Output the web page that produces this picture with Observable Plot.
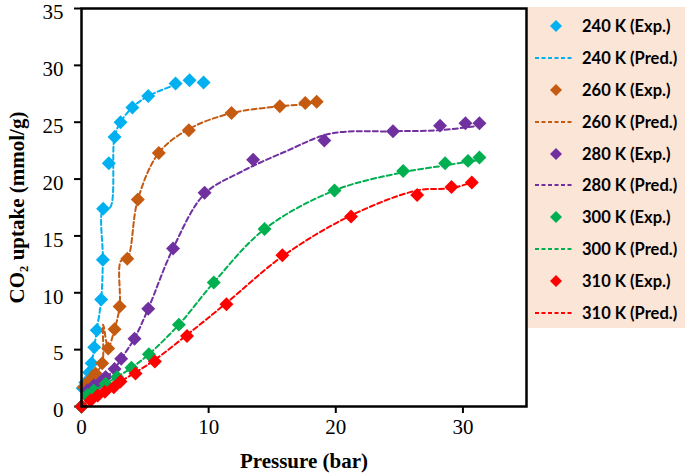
<!DOCTYPE html>
<html>
<head>
<meta charset="utf-8">
<script src="https://cdn.jsdelivr.net/npm/d3@7"></script>
<script src="https://cdn.jsdelivr.net/npm/@observablehq/plot@0.6"></script>
<style>
  html, body { margin: 0; padding: 0; background: white; }
  #wrap { position: relative; width: 685px; height: 473px; }
  #legend { position: absolute; left: 528px; top: 7px; width: 157px; height: 321px;
            background: #FBE5D6; font-family: Lato, "Open Sans", sans-serif; font-weight: bold;
            font-size: 16.5px; color: #000; box-sizing: border-box; padding-top: 3px; }
  .row { height: 31.9px; display: flex; align-items: center; }
  .row svg { flex: none; }
  .row span { margin-left: 8px; white-space: nowrap; }
</style>
</head>
<body>
<div id="wrap"><div id="chart"></div><div id="legend"></div></div>
<script>
// Series
const temps = ["240 K", "260 K", "280 K", "300 K", "310 K"];
const colors = ["#00B0F0", "#C55A11", "#7030A0", "#00B050", "#FF0000"];

// Experimental data: pressure (bar), uptake (mmol/g)
const expP240 = [0, 0.1, 0.3, 0.6, 0.8, 1.0, 1.2, 1.55, 1.68, 1.7, 2.15, 2.6, 3.07, 4.0, 5.25, 7.4, 8.5, 9.6];
const expU240 = [0, 1.6, 2.1, 3.0, 3.8, 5.2, 6.7, 9.4, 12.9, 17.4, 21.4, 23.7, 25.0, 26.3, 27.3, 28.4, 28.7, 28.5];
const expP260 = [0, 0.18, 0.65, 1.1, 1.63, 2.1, 2.6, 3.0, 3.6, 4.43, 6.08, 8.44, 11.8, 15.6, 17.6, 18.5];
const expU260 = [0, 1.7, 2.3, 2.9, 3.8, 5.1, 6.8, 8.8, 13.0, 18.2, 22.3, 24.3, 25.8, 26.4, 26.7, 26.8];
const expP280 = [0, 0.45, 0.97, 1.44, 1.9, 2.6, 3.12, 4.17, 5.25, 7.2, 9.68, 13.5, 19.1, 24.5, 28.2, 30.2, 31.3];
const expU280 = [0, 1.4, 1.85, 2.1, 2.6, 3.3, 4.2, 5.95, 8.6, 13.9, 18.8, 21.7, 23.4, 24.2, 24.7, 24.9, 24.9];
const expP300 = [0, 0.45, 0.97, 1.9, 2.8, 3.93, 5.3, 7.66, 10.4, 14.4, 19.9, 25.3, 28.6, 30.4, 31.3];
const expU300 = [0, 1.0, 1.4, 2.0, 2.6, 3.4, 4.6, 7.2, 10.9, 15.6, 19.0, 20.7, 21.4, 21.6, 21.9];
const expP310 = [0, 0.71, 1.28, 1.84, 2.54, 3.07, 4.25, 5.77, 8.3, 11.4, 15.8, 21.2, 26.4, 29.1, 30.7];
const expU310 = [0, 0.53, 0.97, 1.3, 1.7, 2.2, 2.9, 3.96, 6.2, 9.0, 13.3, 16.7, 18.6, 19.3, 19.7];

// Predicted data
const predP240 = [0, 0.1, 0.3, 0.6, 0.8, 1.0, 1.2, 1.55, 1.68, 1.7, 2.25, 2.6, 3.07, 4.0, 5.25, 7.4];
const predU240 = [0, 1.6, 2.1, 3.0, 3.8, 5.2, 6.7, 9.4, 12.9, 17.4, 17.5, 23.7, 25.0, 26.3, 27.3, 28.3];
const predP260 = [0, 0.18, 0.65, 1.1, 1.63, 1.7, 2.1, 2.6, 3.0, 3.1, 3.6, 4.43, 6.08, 8.44, 11.8, 15.6, 17.6, 18.5];
const predU260 = [0, 1.7, 2.3, 2.9, 3.8, 7.2, 5.2, 6.8, 8.8, 12.8, 13.0, 18.2, 22.3, 24.4, 25.8, 26.4, 26.6, 26.8];
const predP280 = [0, 0.45, 0.97, 1.44, 1.9, 2.6, 3.12, 4.17, 5.25, 7.2, 9.68, 12.5, 16, 19.6, 24.5, 28.2, 31.3];
const predU280 = [0, 1.3, 1.8, 2.1, 2.5, 3.3, 4.2, 6.0, 8.6, 13.9, 18.7, 20.6, 22.4, 24.0, 24.2, 24.3, 24.7];
const predP300 = [0, 0.45, 0.97, 1.9, 2.8, 3.93, 5.3, 7.66, 10.4, 14.4, 19.9, 25.3, 28.6, 31.3];
const predU300 = [0, 1.0, 1.4, 2.0, 2.6, 3.4, 4.6, 7.2, 10.9, 15.6, 19.0, 20.6, 21.2, 21.7];
const predP310 = [0, 0.71, 1.28, 1.84, 2.54, 3.07, 4.25, 5.77, 8.3, 11.4, 15.8, 21.2, 26.4, 29.1, 30.7];
const predU310 = [0, 0.6, 1.0, 1.35, 1.8, 2.2, 3.0, 4.1, 6.3, 9.1, 13.2, 16.8, 19.0, 19.2, 19.7];

const xTicks = [0, 10, 20, 30];
const yTicks = [0, 5, 10, 15, 20, 25, 30, 35];
const xTitle = "Pressure (bar)";
const yTitle = "CO₂ uptake (mmol/g)";

const expSets = [[expP240, expU240], [expP260, expU260], [expP280, expU280], [expP300, expU300], [expP310, expU310]];
const predSets = [[predP240, predU240], [predP260, predU260], [predP280, predU280], [predP300, predU300], [predP310, predU310]];
const toRows = ([P, U], t) => P.map((p, i) => ({p, u: U[i], t}));

const marks = [];
temps.forEach((t, k) => {
  marks.push(Plot.line(toRows(predSets[k], t), {x: "p", y: "u", stroke: colors[k], strokeWidth: 2,
    strokeDasharray: "5,3", curve: "catmull-rom"}));
  marks.push(Plot.dot(toRows(expSets[k], t), {x: "p", y: "u", symbol: "diamond2", r: 6.3,
    fill: colors[k], stroke: "none"}));
});

const chart = Plot.plot({
  width: 685, height: 473,
  marginLeft: 81, marginRight: 159, marginTop: 8, marginBottom: 67,
  style: {fontFamily: "'Liberation Serif', 'Times New Roman', serif", fontSize: "21px", color: "black", background: "white"},
  x: {domain: [0, 35]},
  y: {domain: [0, 35]},
  marks: [
    Plot.axisX({ticks: xTicks, tickSize: 7, tickPadding: 6, fontSize: 21, label: null, strokeWidth: 2}),
    Plot.axisY({ticks: yTicks, tickSize: 7, text: null, label: null, strokeWidth: 2}),
    Plot.axisY({ticks: yTicks, tickSize: 0, tickPadding: 18, fontSize: 21, label: null, dy: 4}),
    ...marks,
    Plot.frame({stroke: "black", strokeWidth: 2.5}),
    Plot.text([xTitle], {frameAnchor: "bottom", dy: 61, textAnchor: "middle", fontWeight: "bold", fontSize: 21}),
    Plot.text([yTitle], {frameAnchor: "left", dx: -64, rotate: -90, textAnchor: "middle", lineAnchor: "middle", fontWeight: "bold", fontSize: 21})
  ]
});
document.getElementById("chart").appendChild(chart);

// Legend
const legend = document.getElementById("legend");
temps.forEach((t, k) => {
  const r1 = document.createElement("div"); r1.className = "row";
  r1.innerHTML = `<svg width="46" height="20"><path d="M28,4 L34,10 L28,16 L22,10 Z" fill="${colors[k]}"/></svg><span>${t} (Exp.)</span>`;
  legend.appendChild(r1);
  const r2 = document.createElement("div"); r2.className = "row";
  r2.innerHTML = `<svg width="46" height="20"><line x1="7" x2="45" y1="10" y2="10" stroke="${colors[k]}" stroke-width="2" stroke-dasharray="4,2.5"/></svg><span>${t} (Pred.)</span>`;
  legend.appendChild(r2);
});
</script>
</body>
</html>
